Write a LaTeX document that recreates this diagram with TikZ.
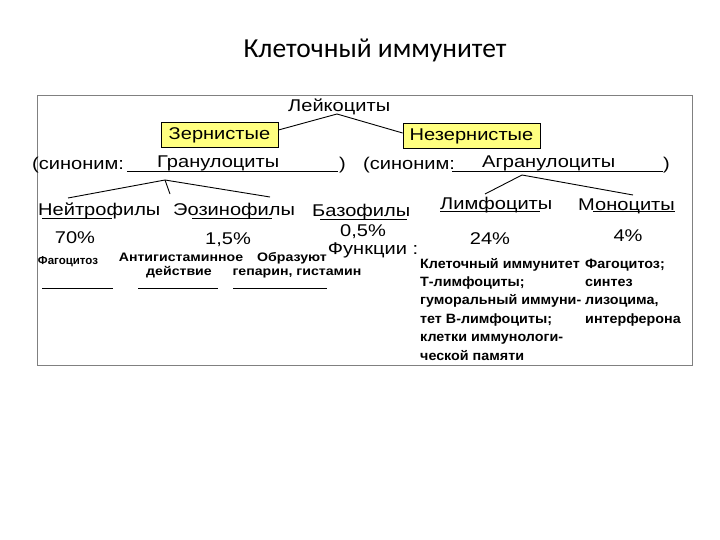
\documentclass[tikz,border=0pt]{standalone}
\usepackage{fontspec}
\newfontfamily\arialf{Liberation Sans}
\newfontfamily\arialw[FakeStretch=1.18]{Liberation Sans}
\newfontfamily\arials[FakeStretch=1.06]{Liberation Sans}
\newfontfamily\arialn[FakeStretch=1.15]{Liberation Sans}
\newfontfamily\calibf{Carlito}
\definecolor{boxyellow}{HTML}{FFFF80}
\definecolor{framegray}{HTML}{808080}
\begin{document}
\begin{tikzpicture}[x=1pt,y=-1pt,
  big/.style={inner sep=0pt,font=\arialw\fontsize{17}{20}\selectfont},
  bigl/.style={big,anchor=base west},
  pct/.style={big},
  small/.style={inner sep=0pt,font=\arials\bfseries\fontsize{13.5}{15}\selectfont},
  smalll/.style={small,anchor=base west},
  smallc/.style={inner sep=0pt,anchor=base,font=\arialn\bfseries\fontsize{12.3}{14}\selectfont},
  ybox/.style={draw=black,fill=boxyellow,line width=0.8pt,inner sep=0pt,minimum height=25pt,font=\arialw\fontsize{17}{20}\selectfont},
  ln/.style={line width=0.9pt},
  uline/.style={line width=1pt}]
\useasboundingbox (0,0) rectangle (720,540);
\node[font=\calibf\fontsize{27.5}{32}\selectfont,inner sep=0pt] (title) at (375,50) {Клеточный иммунитет};
\draw[framegray,line width=0.8pt] (37,95) rectangle (692,365);
% level 1
\node[bigl] (leuk) at (288,112) {Лейкоциты};
\node[ybox,minimum width=117pt] (zern) at (219.5,135) {Зернистые};
\node[ybox,minimum width=137pt] (nezern) at (471.5,136) {Незернистые};
\coordinate (lapex) at (337,114);
\draw[ln] (zern.east |- 0,130) -- (lapex) -- (nezern.west |- 0,133);
% synonyms
\node[bigl] (syn1) at (32,170) {(синоним:};
\node[bigl] (gran) at (157,168) {Гранулоциты};
\node[bigl] (par1) at (339,170) {)};
\coordinate (u1a) at (127,172); \coordinate (u1b) at (338,172);
\draw[uline] (u1a) -- (u1b);
\node[bigl] (syn2) at (363,170) {(синоним:};
\node[bigl] (agran) at (482,168) {Агранулоциты};
\node[bigl] (par2) at (663,170) {)};
\coordinate (u2a) at (452,172); \coordinate (u2b) at (663,172);
\draw[uline] (u2a) -- (u2b);
% branches
\coordinate (gapex) at (165,180);
\coordinate (gl) at (68,198); \coordinate (gr) at (270,197); \coordinate (gm) at (170,194);
\draw[ln] (gl) -- (gapex) -- (gr); \draw[ln] (gapex) -- (gm);
\coordinate (aapex) at (522,175);
\coordinate (al) at (485,194); \coordinate (ar) at (633,195);
\draw[ln] (al) -- (aapex) -- (ar);
% cell types
\node[bigl] (neut) at (38,215) {Нейтрофилы};
\node[bigl] (eos) at (173,215) {Эозинофилы};
\node[bigl] (bas) at (312,217) {Базофилы};
\node[bigl] (lymph) at (440,210) {Лимфоциты};
\node[bigl] (mono) at (578,211) {Моноциты};
\draw[uline] (42,219) -- (112,219);
\draw[uline] (192,219) -- (272,219);
\draw[uline] (320,220) -- (407,220);
\draw[uline] (440,212) -- (540,212);
\draw[uline] (593,212) -- (675,212);
% percentages
\node[pct] (p70) at (75,238) {70\%};
\node[pct] (p15) at (228,240) {1,5\%};
\node[pct] (p05) at (363,232) {0,5\%};
\node[big] (func) at (373,250) {Функции :};
\node[pct] (p24) at (490,239) {24\%};
\node[pct] (p4) at (628,236) {4\%};
% functions
\node[inner sep=0pt,font=\arialf\bfseries\fontsize{11.5}{13}\selectfont] (f1) at (68,262) {Фагоцитоз};
\node[smallc] (f2a) at (181,261) {Антигистаминное};
\node[smallc] (f2b) at (179,275) {действие};
\node[smallc] (f3a) at (292,261) {Образуют};
\node[smallc] (f3b) at (297,275) {гепарин, гистамин};
\draw[line width=0.8pt] (42,288) -- (113,288);
\draw[line width=0.8pt] (138,288) -- (218,288);
\draw[line width=0.8pt] (233,288) -- (327,288);
\node[smalll] (l1) at (420,268) {Клеточный иммунитет};
\node[smalll] (l2) at (420,286.4) {Т-лимфоциты;};
\node[smalll] (l3) at (420,304.8) {гуморальный иммуни-};
\node[smalll] (l4) at (420,323.2) {тет В-лимфоциты;};
\node[smalll] (l5) at (420,341.6) {клетки иммунологи-};
\node[smalll] (l6) at (420,360) {ческой памяти};
\node[smalll] (m1) at (585,268) {Фагоцитоз;};
\node[smalll] (m2) at (585,286.4) {синтез};
\node[smalll] (m3) at (585,304.8) {лизоцима,};
\node[smalll] (m4) at (585,323.2) {интерферона};
\end{tikzpicture}
\end{document}
